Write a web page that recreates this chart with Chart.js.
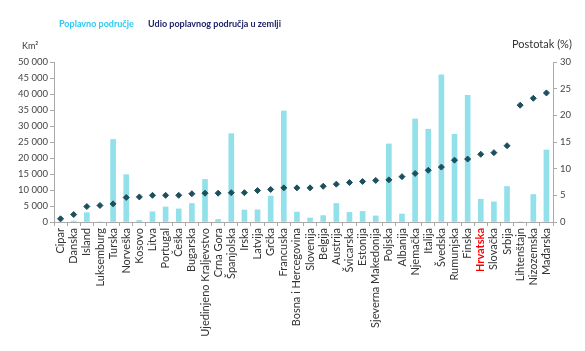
<!DOCTYPE html>
<html>
<head>
<meta charset="utf-8">
<script src="https://cdn.jsdelivr.net/npm/chart.js@4/dist/chart.umd.min.js"></script>
<style>
  html, body { margin: 0; padding: 0; background: #fff; }
  #wrap { width: 585px; height: 351px; }
</style>
</head>
<body>
<div id="wrap"><canvas id="c" width="585" height="351"></canvas></div>
<script>
// zemlje, poredane po udjelu poplavnog područja
const zemlje = ['Cipar', 'Danska', 'Island', 'Luksemburg', 'Turska', 'Norveška', 'Kosovo', 'Litva',
    'Portugal', 'Češka', 'Bugarska', 'Ujedinjeno Kraljevstvo', 'Crna Gora', 'Španjolska', 'Irska',
    'Latvija', 'Grčka', 'Francuska', 'Bosna i Hercegovina', 'Slovenija', 'Belgija', 'Austrija',
    'Švicarska', 'Estonija', 'Sjeverna Makedonija', 'Poljska', 'Albanija', 'Njemačka', 'Italija',
    'Švedska', 'Rumunjska', 'Finska', 'Hrvatska', 'Slovačka', 'Srbija', 'Lihtenštajn',
    'Nizozemska', 'Mađarska'];

// poplavno područje (km2)
const poplavnoKm2 = [0, 300, 2900, 0, 25800, 14800, 500, 3200, 4700, 4100, 5800, 13300, 800, 27600,
    3750, 3800, 8100, 34700, 3100, 1250, 2000, 5800, 3000, 3300, 1900, 24400, 2500, 32200, 29000,
    46000, 27400, 39600, 7100, 6300, 11100, 0, 8600, 22500];

// udio poplavnog područja u zemlji (%)
const udioPosto = [0.6, 1.4, 2.9, 3.1, 3.4, 4.6, 4.7, 5.0, 5.0, 5.0, 5.3, 5.4, 5.4, 5.5, 5.5, 5.9,
    6.1, 6.4, 6.4, 6.4, 6.7, 7.1, 7.4, 7.6, 7.8, 7.9, 8.5, 9.1, 9.7, 10.3, 11.6, 11.8, 12.7, 13.0,
    14.3, 21.9, 23.2, 24.2];

const ticksKm2 = [0, 5000, 10000, 15000, 20000, 25000, 30000, 35000, 40000, 45000, 50000];
const ticksPosto = [0, 5, 10, 15, 20, 25, 30];

const istaknuta = 'Hrvatska';
const fontObitelj = 'Lato, "Open Sans", sans-serif';

const naslovi = {
    id: 'naslovi',
    afterDraw(chart) {
        const ctx = chart.ctx;
        ctx.save();
        ctx.textBaseline = 'middle';
        ctx.textAlign = 'left';
        ctx.font = 'bold 9px ' + fontObitelj;
        ctx.fillStyle = '#2ec8f2';
        ctx.fillText('Poplavno područje', 59, 24);
        ctx.fillStyle = '#1f2467';
        ctx.fillText('Udio poplavnog područja u zemlji', 148, 24);

        ctx.fillStyle = '#333';
        ctx.font = '9px ' + fontObitelj;
        ctx.fillText('Km²', 22, 46);
        ctx.font = '11px ' + fontObitelj;
        ctx.fillText('Postotak (%)', 512, 44);
        ctx.restore();
    }
};

const formatKm = v => String(v).replace(/\B(?=(\d{3})+(?!\d))/g, ' ');

new Chart(document.getElementById('c'), {
    data: {
        labels: zemlje,
        datasets: [
            {
                type: 'scatter',
                label: 'Udio poplavnog područja u zemlji',
                data: udioPosto,
                yAxisID: 'y1',
                showLine: false,
                pointStyle: 'rectRot',
                pointRadius: 3,
                backgroundColor: '#1d4f5c',
                borderColor: '#1d4f5c',
                borderWidth: 1
            },
            {
                type: 'bar',
                label: 'Poplavno područje',
                data: poplavnoKm2,
                yAxisID: 'y',
                backgroundColor: '#92e1ea',
                barThickness: 5
            }
        ]
    },
    options: {
        responsive: false,
        animation: false,
        devicePixelRatio: 1,
        layout: { padding: { top: 62, left: 0, right: 0, bottom: 0 } },
        plugins: {
            legend: { display: false },
            tooltip: { enabled: false }
        },
        scales: {
            x: {
                type: 'category',
                offset: true,
                grid: {
                    offset: true,
                    drawOnChartArea: false,
                    tickLength: 4,
                    color: '#aaa'
                },
                border: { color: '#aaa' },
                ticks: {
                    autoSkip: false,
                    maxRotation: 90,
                    minRotation: 90,
                    padding: 2,
                    color: c => zemlje[c.index] === istaknuta ? '#ff0000' : '#333',
                    font: c => ({
                        family: fontObitelj,
                        size: 11,
                        weight: zemlje[c.index] === istaknuta ? 'bold' : 'normal'
                    })
                },
                afterFit: s => { s.height = 129; }
            },
            y: {
                position: 'left',
                min: 0,
                max: 50000,
                afterBuildTicks: s => { s.ticks = ticksKm2.map(v => ({ value: v })); },
                grid: { drawOnChartArea: false, tickLength: 4, color: '#aaa' },
                border: { color: '#aaa' },
                ticks: {
                    color: '#444',
                    padding: 2,
                    font: { family: fontObitelj, size: 9.5 },
                    callback: v => formatKm(v)
                },
                afterFit: s => { s.width = 54; }
            },
            y1: {
                position: 'right',
                min: 0,
                max: 30,
                afterBuildTicks: s => { s.ticks = ticksPosto.map(v => ({ value: v })); },
                grid: { drawOnChartArea: false, tickLength: 4, color: '#aaa' },
                border: { color: '#aaa' },
                ticks: {
                    color: '#444',
                    padding: 3,
                    font: { family: fontObitelj, size: 9.5 }
                },
                afterFit: s => { s.width = 32; }
            }
        }
    },
    plugins: [naslovi]
});
</script>
</body>
</html>
